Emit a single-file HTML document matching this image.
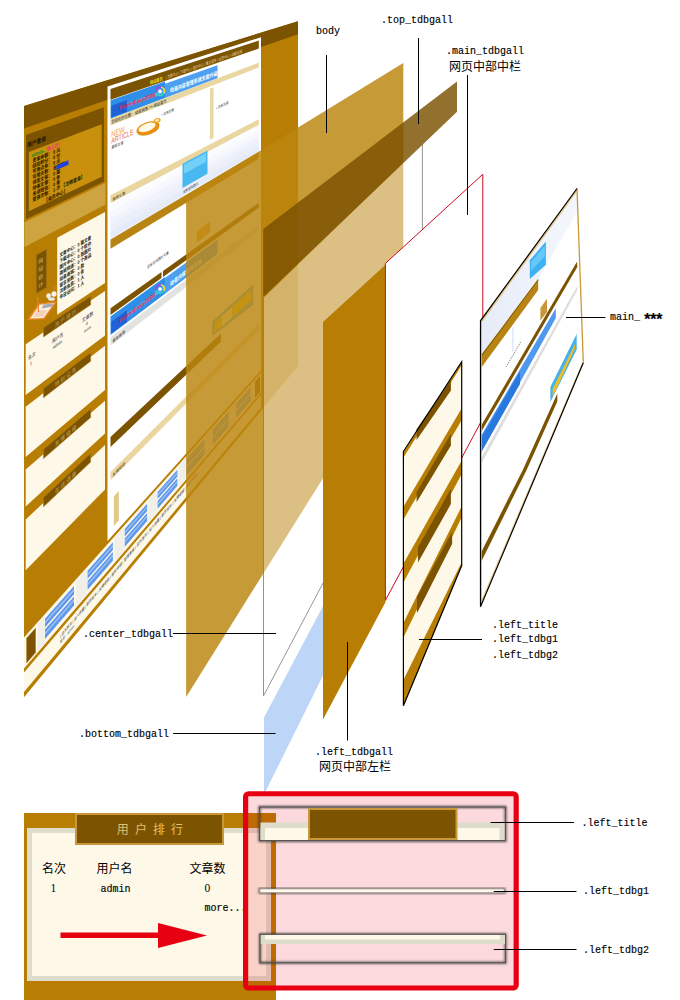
<!DOCTYPE html>
<html lang="zh-CN"><head><meta charset="utf-8"><title>CSS layers</title>
<style>
html,body{margin:0;padding:0;background:#fff;}
body{width:680px;height:1000px;overflow:hidden;position:relative;}
svg{position:absolute;left:0;top:0;display:block;}
.lb{font-family:"Liberation Mono","Noto Serif CJK SC",monospace;font-size:10px;fill:#000;stroke:#000;stroke-width:0.15px;}
.cj{font-family:"Liberation Serif","Noto Sans CJK SC",sans-serif;font-size:12px;fill:#000;}
</style></head><body>
<svg width="680" height="1000" viewBox="0 0 680 1000">
<g id="composite">
<polygon points="24.0,106.0 298.0,21.2 298.0,366.0 24.0,697.3" fill="#B87E03" />
<polygon points="24.0,106.0 298.0,21.2 298.0,34.3 24.0,128.5" fill="#7C5300" />
<polygon points="26.0,134.9 104.0,107.2 104.0,181.5 26.0,219.2" fill="#7C5300" />
<polygon points="28.9,152.0 101.7,124.2 101.7,176.8 28.9,211.3" fill="#C8900C" />
<polygon points="24.5,222.2 105.5,182.8 105.5,204.6 24.5,247.1" fill="#CDA440" />
<polygon points="57.2,237.8 105.0,212.1 105.0,283.1 57.2,314.7" fill="#FDF8E8" />
<polygon points="36.2,254.8 46.7,249.1 46.7,287.4 36.2,293.7" fill="#7C5300" stroke="#A87A1C" stroke-width="0.8" />
<polygon points="27.2,319.7 44.3,319.3 56.8,301.5 38.5,303.5" fill="#F08828" />
<polygon points="30.3,318.4 43.5,318.0 54.4,303.0 39.6,304.8" fill="#FBEFE0" />
<polygon points="41.5,308.5 51.8,306.8 54.0,303.3 43.8,304.6" fill="#A8A8B4" />
<polygon points="33.0,317.0 42.8,316.8 47.5,310.0 37.6,310.6" fill="#F6C8B0" fill-opacity="0.8" />
<ellipse cx="48.6" cy="295.8" rx="2.3" ry="2.6" fill="#F2EEEA"/><ellipse cx="54" cy="294" rx="2.6" ry="2.8" fill="#F6F0E8"/><ellipse cx="51.5" cy="299" rx="3.5" ry="1.8" fill="#ECE6E0"/>
<line x1="37.7" y1="297.5" x2="38.6" y2="312" stroke="#F08030" stroke-width="1.2"/>
<line x1="53" y1="291.5" x2="55.5" y2="286.5" stroke="#F08030" stroke-width="0.8"/>
<polygon points="25.7,344.3 105.0,290.9 105.0,335.5 25.7,395.1" fill="#FDF8E8" />
<polygon points="43.5,327.7 90.6,296.3 90.6,304.8 43.5,336.9" fill="#7C5300" stroke="#A87A1C" stroke-width="0.6" />
<polygon points="25.7,406.8 105.0,345.8 105.0,389.9 25.7,457.0" fill="#FDF8E8" />
<polygon points="43.5,388.6 90.6,352.7 90.6,361.2 43.5,397.7" fill="#7C5300" stroke="#A87A1C" stroke-width="0.6" />
<polygon points="25.7,469.4 105.0,400.8 105.0,433.5 25.7,506.5" fill="#FDF8E8" />
<polygon points="43.5,449.4 90.6,409.0 90.6,417.5 43.5,458.6" fill="#7C5300" stroke="#A87A1C" stroke-width="0.6" />
<polygon points="25.7,519.5 105.0,444.9 105.0,489.5 25.7,570.2" fill="#FDF8E8" />
<polygon points="43.5,497.6 90.6,453.6 90.6,462.1 43.5,506.8" fill="#7C5300" stroke="#A87A1C" stroke-width="0.6" />
<polygon points="107.5,86.4 261.0,37.2 261.0,370.3 107.5,541.1" fill="#fff" />
<polygon points="110.5,89.0 258.8,40.6 258.8,48.5 110.5,99.8" fill="#7C5300" />
<polygon points="110.6,100.2 165.0,81.4 165.0,98.1 110.6,118.7" fill="#2F8FE8" />
<polygon points="165.0,83.7 217.5,65.3 217.5,78.2 165.0,98.1" fill="#4F9FF0" />
<polygon points="110.5,118.8 258.8,62.6 258.8,67.5 110.5,125.4" fill="#EAD6A0" />
<polygon points="210.0,88.7 213.5,87.3 213.5,137.8 210.0,139.6" fill="#EAD6A0" />
<polygon points="110.5,195.3 258.8,119.2 258.8,124.9 110.5,203.0" fill="#EAD6A0" />
<polygon points="110.5,204.0 258.8,125.7 258.8,131.0 110.5,211.1" fill="#FBFCFE" />
<polygon points="110.5,210.9 258.8,130.8 258.8,136.1 110.5,218.0" fill="#F6F8FD" />
<polygon points="110.5,217.8 258.8,135.9 258.8,141.2 110.5,224.9" fill="#F0F3FB" />
<polygon points="110.5,224.6 258.8,141.0 258.8,146.2 110.5,231.8" fill="#EAEFF9" />
<polygon points="110.5,231.5 258.8,146.1 258.8,151.3 110.5,238.7" fill="#E5EBF8" />
<polygon points="110.5,239.4 258.8,151.9 258.8,158.8 110.5,248.7" fill="#B88414" />
<polygon points="110.5,308.2 161.5,272.0 161.5,278.1 110.5,314.9" fill="#7C5300" />
<polygon points="163.0,270.9 258.8,202.8 258.8,207.8 163.0,277.0" fill="#7C5300" />
<polygon points="110.5,316.5 165.0,276.9 165.0,293.7 110.5,334.9" fill="#2F8FE8" />
<polygon points="165.0,277.9 217.5,239.7 217.5,253.9 165.0,293.7" fill="#4F9FF0" />
<polygon points="110.5,337.5 258.8,224.5 258.8,230.6 110.5,345.7" fill="#E2E2E0" />
<polygon points="110.5,437.1 221.0,333.6 221.0,341.5 110.5,446.9" fill="#7C5300" />
<polygon points="110.5,472.0 258.8,324.1 258.8,330.2 110.5,480.3" fill="#EAD6A0" />
<polygon points="113.8,496.4 118.8,491.1 118.8,520.5 113.8,526.0" fill="#E4C888" />
<polygon points="24.0,637.6 261.0,372.6 261.0,392.4 24.0,668.6" fill="#FDF8E8" />
<polygon points="24.0,672.5 261.0,394.9 261.0,407.3 24.0,692.0" fill="#FDF8E8" />
<polygon points="111.2,105.7 127.0,100.1 127.0,111.5 111.2,117.5" fill="#1848D0" fill-opacity="0.65" />
<polygon points="127.0,103.0 165.0,89.3 165.0,93.0 127.0,107.0" fill="#7FD0FF" fill-opacity="0.45" />
<g transform="translate(160.0,91.3) rotate(-18)" fill="none" stroke-width="1.6"><path d="M-4.6,0 A4.6,4.2 0 0 1 2.3,-3.6" stroke="#B040E0"/><path d="M2.3,-3.6 A4.6,4.2 0 0 1 3.2,3" stroke="#F0E030"/><path d="M3.2,3 A4.6,4.2 0 0 1 -4.6,0" stroke="#30D0C0"/><circle r="1.8" fill="#fff" stroke="none"/></g>
<polygon points="111.2,321.8 127.0,310.2 127.0,321.7 111.2,333.6" fill="#1848D0" fill-opacity="0.65" />
<polygon points="127.0,313.2 165.0,285.1 165.0,288.8 127.0,317.2" fill="#7FD0FF" fill-opacity="0.45" />
<g transform="translate(160.0,289.0) rotate(-18)" fill="none" stroke-width="1.6"><path d="M-4.6,0 A4.6,4.2 0 0 1 2.3,-3.6" stroke="#B040E0"/><path d="M2.3,-3.6 A4.6,4.2 0 0 1 3.2,3" stroke="#F0E030"/><path d="M3.2,3 A4.6,4.2 0 0 1 -4.6,0" stroke="#30D0C0"/><circle r="1.8" fill="#fff" stroke="none"/></g>
<text transform="matrix(0.800,-0.2994,0,1.000,27.0,147.5)" font-size="6" font-weight="bold" fill="#1a1000" style="font-family:'Liberation Sans','Noto Sans CJK SC',sans-serif">用户登录</text>
<text transform="matrix(0.78,-0.3056,0,1,31.5,157.2)" font-size="5" style="font-family:'Liberation Sans','Noto Sans CJK SC',sans-serif"><tspan fill="#0A8A1A" font-weight="bold">admin，</tspan><tspan fill="#F0308A" font-weight="bold">晚上好！</tspan></text>
<text transform="matrix(0.780,-0.3123,0,1.000,32.5,162.4)" font-size="5" font-weight="bold" fill="#1a1000" style="font-family:'Liberation Sans','Noto Sans CJK SC',sans-serif">资金余额： 0 元</text>
<text transform="matrix(0.780,-0.3191,0,1.000,32.5,168.0)" font-size="5" font-weight="bold" fill="#1a1000" style="font-family:'Liberation Sans','Noto Sans CJK SC',sans-serif">经验积分： 0 分</text>
<text transform="matrix(0.780,-0.3258,0,1.000,32.5,173.6)" font-size="5" font-weight="bold" fill="#1a1000" style="font-family:'Liberation Sans','Noto Sans CJK SC',sans-serif">可用点券： 0 点</text>
<text transform="matrix(0.780,-0.3326,0,1.000,32.5,179.2)" font-size="5" font-weight="bold" fill="#1a1000" style="font-family:'Liberation Sans','Noto Sans CJK SC',sans-serif">可用天数： 无限期</text>
<text transform="matrix(0.780,-0.3393,0,1.000,32.5,184.8)" font-size="5" font-weight="bold" fill="#1a1000" style="font-family:'Liberation Sans','Noto Sans CJK SC',sans-serif">待签文章： 0 篇</text>
<text transform="matrix(0.780,-0.3460,0,1.000,32.5,190.4)" font-size="5" font-weight="bold" fill="#1a1000" style="font-family:'Liberation Sans','Noto Sans CJK SC',sans-serif">待审文章： 0 条</text>
<text transform="matrix(0.780,-0.3528,0,1.000,32.5,196.0)" font-size="5" font-weight="bold" fill="#1a1000" style="font-family:'Liberation Sans','Noto Sans CJK SC',sans-serif">未读短信： 0 条</text>
<text transform="matrix(0.780,-0.3595,0,1.000,32.5,201.6)" font-size="5" font-weight="bold" fill="#1a1000" style="font-family:'Liberation Sans','Noto Sans CJK SC',sans-serif">登录次数： 1 次  【注销登录】</text>
<text transform="matrix(0.780,-0.3676,0,1.000,44.0,202.9)" font-size="5" font-weight="bold" fill="#1a1000" style="font-family:'Liberation Sans','Noto Sans CJK SC',sans-serif">【会员中心】</text>
<polygon points="56.4,165.4 68.5,160.3 68.5,164.7 56.4,169.9" fill="#2040E0" />
<text transform="matrix(0.900,-0.5061,0,1.000,38.2,264.2)" font-size="5.5" font-weight="normal" fill="#D8B868" style="font-family:'Liberation Sans','Noto Sans CJK SC',sans-serif">网</text>
<text transform="matrix(0.900,-0.5174,0,1.000,38.2,272.3)" font-size="5.5" font-weight="normal" fill="#D8B868" style="font-family:'Liberation Sans','Noto Sans CJK SC',sans-serif">站</text>
<text transform="matrix(0.900,-0.5287,0,1.000,38.2,280.4)" font-size="5.5" font-weight="normal" fill="#D8B868" style="font-family:'Liberation Sans','Noto Sans CJK SC',sans-serif">统</text>
<text transform="matrix(0.900,-0.5401,0,1.000,38.2,288.5)" font-size="5.5" font-weight="normal" fill="#D8B868" style="font-family:'Liberation Sans','Noto Sans CJK SC',sans-serif">计</text>
<text transform="matrix(0.720,-0.4107,0,1.000,59.5,257.2)" font-size="5" font-weight="bold" fill="#111" style="font-family:'Liberation Sans','Noto Sans CJK SC',sans-serif">文章中心：0 篇文章</text>
<text transform="matrix(0.720,-0.4177,0,1.000,59.5,263.3)" font-size="5" font-weight="bold" fill="#111" style="font-family:'Liberation Sans','Noto Sans CJK SC',sans-serif">下载中心：0 个软件</text>
<text transform="matrix(0.720,-0.4247,0,1.000,59.5,269.3)" font-size="5" font-weight="bold" fill="#111" style="font-family:'Liberation Sans','Noto Sans CJK SC',sans-serif">图片中心：0 张图片</text>
<text transform="matrix(0.720,-0.4317,0,1.000,59.5,275.4)" font-size="5" font-weight="bold" fill="#111" style="font-family:'Liberation Sans','Noto Sans CJK SC',sans-serif">商城频道：0 个商品</text>
<text transform="matrix(0.720,-0.4387,0,1.000,59.5,281.4)" font-size="5" font-weight="bold" fill="#111" style="font-family:'Liberation Sans','Noto Sans CJK SC',sans-serif">动易商城：0 款</text>
<text transform="matrix(0.720,-0.4457,0,1.000,59.5,287.4)" font-size="5" font-weight="bold" fill="#111" style="font-family:'Liberation Sans','Noto Sans CJK SC',sans-serif">留言总数：0 条</text>
<text transform="matrix(0.720,-0.4526,0,1.000,59.5,293.5)" font-size="5" font-weight="bold" fill="#111" style="font-family:'Liberation Sans','Noto Sans CJK SC',sans-serif">注册会员：1 人</text>
<text transform="matrix(0.720,-0.4596,0,1.000,59.5,299.5)" font-size="5" font-weight="bold" fill="#111" style="font-family:'Liberation Sans','Noto Sans CJK SC',sans-serif">今日访问：1 人</text>
<text transform="matrix(0.800,-0.5427,0,1.000,55.0,327.4)" font-size="5.5" font-weight="normal" fill="#C8A860" style="font-family:'Liberation Sans','Noto Sans CJK SC',sans-serif">用 户 排 行</text>
<text transform="matrix(0.800,-0.6190,0,1.000,55.0,387.1)" font-size="5.5" font-weight="normal" fill="#C8A860" style="font-family:'Liberation Sans','Noto Sans CJK SC',sans-serif">特 别 公 告</text>
<text transform="matrix(0.800,-0.6952,0,1.000,55.0,446.8)" font-size="5.5" font-weight="normal" fill="#C8A860" style="font-family:'Liberation Sans','Noto Sans CJK SC',sans-serif">友 情 链 接</text>
<text transform="matrix(0.800,-0.7557,0,1.000,55.0,494.2)" font-size="5.5" font-weight="normal" fill="#C8A860" style="font-family:'Liberation Sans','Noto Sans CJK SC',sans-serif">在 线 调 查</text>
<text transform="matrix(0.750,-0.5256,0,1.000,28.0,360.4)" font-size="5" font-weight="normal" fill="#222" style="font-family:'Liberation Sans','Noto Sans CJK SC',sans-serif">名次</text>
<text transform="matrix(0.750,-0.5256,0,1.000,52.0,343.6)" font-size="5" font-weight="normal" fill="#222" style="font-family:'Liberation Sans','Noto Sans CJK SC',sans-serif">用户名</text>
<text transform="matrix(0.750,-0.5256,0,1.000,82.0,322.6)" font-size="5" font-weight="normal" fill="#222" style="font-family:'Liberation Sans','Noto Sans CJK SC',sans-serif">文章数</text>
<text transform="matrix(0.750,-0.5330,0,1.000,30.0,365.5)" font-size="4.5" font-weight="normal" fill="#222" style="font-family:'Liberation Sans','Noto Sans CJK SC',sans-serif">1</text>
<text transform="matrix(0.750,-0.5330,0,1.000,53.0,349.1)" font-size="4.5" font-weight="normal" fill="#222" style="font-family:'Liberation Sans','Noto Sans CJK SC',sans-serif">admin</text>
<text transform="matrix(0.750,-0.5330,0,1.000,86.0,325.7)" font-size="4.5" font-weight="normal" fill="#222" style="font-family:'Liberation Sans','Noto Sans CJK SC',sans-serif">0</text>
<text transform="matrix(0.750,-0.5405,0,1.000,84.0,333.0)" font-size="4" font-weight="normal" fill="#222" style="font-family:'Liberation Sans','Noto Sans CJK SC',sans-serif">more...</text>
<text transform="matrix(0.700,-0.2396,0,1.000,150.0,84.4)" font-size="4.5" font-weight="bold" fill="#F0E020" style="font-family:'Liberation Sans','Noto Sans CJK SC',sans-serif">网站首页</text>
<text transform="matrix(0.620,-0.2122,0,1.000,166.0,79.0)" font-size="4.3" font-weight="normal" fill="#E8D8A8" style="font-family:'Liberation Sans','Noto Sans CJK SC',sans-serif">| 文章中心 | 下载中心 | 图片中心 | 雁过留声 | 会员中心 | 动易商城</text>
<text transform="matrix(0.800,-0.2951,0,1.000,119.0,110.0)" font-size="6" font-weight="bold" fill="#E8203A" style="font-family:'Liberation Sans',sans-serif">PowerEasy2006</text>
<text transform="matrix(0.720,-0.2675,0,1.000,170.0,92.6)" font-size="5.5" font-weight="bold" fill="#fff" style="font-family:'Liberation Sans','Noto Sans CJK SC',sans-serif">动易内容管理系统全面升级</text>
<text transform="matrix(0.720,-0.2795,0,1.000,111.5,123.8)" font-size="4.5" font-weight="normal" fill="#222" style="font-family:'Liberation Sans','Noto Sans CJK SC',sans-serif">您现在的位置： 动易网络 &gt;&gt; 网站首页</text>
<text transform="matrix(0.720,-0.2964,0,1.000,111.3,137.2)" font-size="8" font-weight="normal" fill="#F0A030" style="font-family:'Liberation Sans',sans-serif">NEW</text>
<text transform="matrix(0.660,-0.2794,0,1.000,111.3,143.8)" font-size="8" font-weight="normal" fill="#E86A30" style="font-family:'Liberation Sans',sans-serif">ARTICLE</text>
<text transform="matrix(0.750,-0.3246,0,1.000,111.5,149.1)" font-size="4" font-weight="normal" fill="#333" style="font-family:'Liberation Sans','Noto Sans CJK SC',sans-serif">最新文章</text>
<g transform="translate(148,128.4) rotate(-20)"><ellipse cx="0" cy="2.2" rx="11" ry="4" fill="#DDE6F0"/><ellipse cx="0" cy="0" rx="12" ry="6.3" fill="#E8900C"/><ellipse cx="-0.5" cy="-1.3" rx="9" ry="3.9" fill="#FFF8E6"/><ellipse cx="11.3" cy="-4.3" rx="3.6" ry="2.3" fill="#F0A828"/><ellipse cx="11.3" cy="-4.6" rx="2" ry="1.1" fill="#FFF3D0"/></g>
<text transform="matrix(0.750,-0.3080,0,1.000,161.5,116.1)" font-size="3.6" font-weight="normal" fill="#333" style="font-family:'Liberation Sans','Noto Sans CJK SC',sans-serif">▪ 没有文章</text>
<text transform="matrix(0.750,-0.3333,0,1.000,216.0,109.4)" font-size="3.6" font-weight="normal" fill="#333" style="font-family:'Liberation Sans','Noto Sans CJK SC',sans-serif">▪ 没有文章</text>
<text transform="matrix(0.750,-0.3937,0,1.000,112.5,201.2)" font-size="4.2" font-weight="normal" fill="#4a3a10" style="font-family:'Liberation Sans','Noto Sans CJK SC',sans-serif">推荐文章</text>
<text transform="matrix(0.750,-0.5806,0,1.000,112.5,342.9)" font-size="4.2" font-weight="normal" fill="#333" style="font-family:'Liberation Sans','Noto Sans CJK SC',sans-serif">最新推荐</text>
<text transform="matrix(0.750,-0.7577,0,1.000,112.5,477.2)" font-size="4.2" font-weight="normal" fill="#4a3a10" style="font-family:'Liberation Sans','Noto Sans CJK SC',sans-serif">友情链接</text>
<polygon points="182.5,163.7 207.5,150.6 207.5,173.7 182.5,188.0" fill="#48B8F0" />
<polygon points="184.0,164.7 206.0,153.1 206.0,161.7 184.0,173.7" fill="#8FE0FF" fill-opacity="0.6" />
<text transform="matrix(0.720,-0.4204,0,1.000,183.0,193.5)" font-size="3.6" font-weight="normal" fill="#333" style="font-family:'Liberation Sans','Noto Sans CJK SC',sans-serif">没有任何图片</text>
<text transform="matrix(0.720,-0.4936,0,1.000,147.0,268.8)" font-size="3.8" font-weight="normal" fill="#333" style="font-family:'Liberation Sans','Noto Sans CJK SC',sans-serif">没有任何图片文章</text>
<text transform="matrix(0.800,-0.5988,0,1.000,119.0,323.4)" font-size="6" font-weight="bold" fill="#E8203A" style="font-family:'Liberation Sans',sans-serif">PowerEasy2006</text>
<text transform="matrix(0.720,-0.5402,0,1.000,170.0,286.2)" font-size="5.5" font-weight="bold" fill="#fff" style="font-family:'Liberation Sans','Noto Sans CJK SC',sans-serif">动易内容管理系统</text>
<polygon points="26.6,638.2 35.5,628.2 35.5,652.6 26.6,662.9" fill="#7C5300" stroke="#A87A1C" stroke-width="0.6" />
<polygon points="37.5,624.2 44.5,616.4 44.5,643.3 37.5,651.4" fill="#F1EFEA" />
<polygon points="45.0,618.7 74.0,586.0 74.0,594.2 45.0,627.2" fill="#5F98EA" />
<polygon points="45.0,629.5 74.0,596.4 74.0,605.4 45.0,639.0" fill="#5F98EA" />
<polygon points="45.0,621.5 74.0,588.7 74.0,590.9 45.0,623.8" fill="#A8CCF8" fill-opacity="0.8" />
<polygon points="45.0,632.4 74.0,599.1 74.0,601.3 45.0,634.7" fill="#A8CCF8" fill-opacity="0.8" />
<polygon points="75.8,581.3 87.1,568.7 87.1,593.8 75.8,606.9" fill="#F1EFEA" />
<polygon points="87.6,570.8 112.9,542.3 112.9,549.9 87.6,578.8" fill="#5F98EA" />
<polygon points="87.6,580.9 112.9,552.0 112.9,560.4 87.6,589.7" fill="#5F98EA" />
<polygon points="87.6,573.5 112.9,544.8 112.9,546.9 87.6,575.6" fill="#A8CCF8" fill-opacity="0.8" />
<polygon points="87.6,583.6 112.9,554.5 112.9,556.6 87.6,585.7" fill="#A8CCF8" fill-opacity="0.8" />
<polygon points="114.5,537.9 124.3,527.0 124.3,550.5 114.5,561.9" fill="#F1EFEA" />
<polygon points="124.8,528.9 147.1,503.8 147.1,511.0 124.8,536.4" fill="#5F98EA" />
<polygon points="124.8,538.4 147.1,512.9 147.1,520.9 124.8,546.7" fill="#5F98EA" />
<polygon points="124.8,531.4 147.1,506.2 147.1,508.1 124.8,533.4" fill="#A8CCF8" fill-opacity="0.8" />
<polygon points="124.8,540.9 147.1,515.3 147.1,517.3 124.8,542.9" fill="#A8CCF8" fill-opacity="0.8" />
<polygon points="148.5,499.8 157.1,490.2 157.1,512.4 148.5,522.4" fill="#F1EFEA" />
<polygon points="157.6,492.0 177.4,469.7 177.4,476.5 157.6,499.0" fill="#5F98EA" />
<polygon points="157.6,500.9 177.4,478.3 177.4,485.8 157.6,508.7" fill="#5F98EA" />
<polygon points="157.6,494.3 177.4,472.0 177.4,473.8 157.6,496.2" fill="#A8CCF8" fill-opacity="0.8" />
<polygon points="157.6,503.3 177.4,480.6 177.4,482.4 157.6,505.2" fill="#A8CCF8" fill-opacity="0.8" />
<polygon points="178.6,466.0 186.2,457.5 186.2,478.4 178.6,487.3" fill="#F1EFEA" />
<polygon points="186.7,459.2 204.4,439.2 204.4,445.7 186.7,465.8" fill="#5F98EA" />
<polygon points="186.7,467.6 204.4,447.4 204.4,454.5 186.7,475.0" fill="#5F98EA" />
<polygon points="186.7,461.4 204.4,441.4 204.4,443.1 186.7,463.2" fill="#A8CCF8" fill-opacity="0.8" />
<polygon points="186.7,469.8 204.4,449.5 204.4,451.3 186.7,471.6" fill="#A8CCF8" fill-opacity="0.8" />
<polygon points="205.5,435.9 212.3,428.3 212.3,448.1 205.5,456.0" fill="#F1EFEA" />
<polygon points="212.8,429.8 228.7,411.9 228.7,418.0 212.8,436.1" fill="#5F98EA" />
<polygon points="212.8,437.8 228.7,419.6 228.7,426.4 212.8,444.8" fill="#5F98EA" />
<polygon points="212.8,431.9 228.7,413.9 228.7,415.6 212.8,433.6" fill="#A8CCF8" fill-opacity="0.8" />
<polygon points="212.8,439.9 228.7,421.7 228.7,423.3 212.8,441.6" fill="#A8CCF8" fill-opacity="0.8" />
<polygon points="229.7,408.8 235.8,402.0 235.8,420.8 229.7,427.8" fill="#F1EFEA" />
<polygon points="236.3,403.4 250.7,387.2 250.7,393.0 236.3,409.4" fill="#5F98EA" />
<polygon points="236.3,411.0 250.7,394.6 250.7,401.0 236.3,417.6" fill="#5F98EA" />
<polygon points="236.3,405.4 250.7,389.2 250.7,390.7 236.3,407.0" fill="#A8CCF8" fill-opacity="0.8" />
<polygon points="236.3,413.0 250.7,396.5 250.7,398.1 236.3,414.6" fill="#A8CCF8" fill-opacity="0.8" />
<polygon points="255.0,381.6 260.0,375.9 260.0,391.9 255.0,397.7" fill="#7C5300" />
<text transform="matrix(0.620,-0.7340,0,1.000,60.0,638.1)" font-size="4.2" font-weight="normal" fill="#222" style="font-family:'Liberation Sans','Noto Sans CJK SC',sans-serif">| 设为首页 | 加入收藏 | 联系站长 | 友情链接 | 版权申明 | 管理登录 | 设为首页 | 加入收藏 | 联系站长 | 友情链接 | 版权申明 |</text>
<text transform="matrix(0.620,-0.7396,0,1.000,60.0,643.7)" font-size="4" font-weight="normal" fill="#222" style="font-family:'Liberation Sans','Noto Sans CJK SC',sans-serif">站长：admin</text>
<polygon points="212.4,321.6 253.2,284.4 253.2,304.8 212.4,336.0" fill="#40B0F0" />
<polygon points="214.5,322.5 251.5,289.0 251.5,301.0 214.5,333.0" fill="#E8D020" />
<polygon points="222.0,316.0 232.0,307.0 232.0,317.5 222.0,326.5" fill="#FFFFFF" fill-opacity="0.8" />
<polygon points="196.8,232.0 210.0,220.8 210.0,232.0 196.8,243.0" fill="#D8A838" />
</g>
<polygon points="186.1,196.0 403.3,63.0 403.3,350.0 186.1,697.0" fill="#BC8610" fill-opacity="0.83" />
<polygon points="263.5,298.0 422.4,144.0 422.4,395.0 263.5,695.8" fill="#fff" fill-opacity="0.38" />
<polyline points="422.4,144.0 422.4,395.0 263.5,695.8 263.5,298.0" fill="none" stroke="#777" stroke-width="0.8"/>
<polygon points="264.0,717.5 323.0,606.0 323.0,675.5 264.0,794.6" fill="#BDD5F7" />
<polygon points="263.3,229.0 457.0,81.5 457.0,111.7 263.3,297.0" fill="#7A5000" fill-opacity="0.82" />
<polygon points="323.0,322.0 385.3,265.0 385.3,602.5 323.0,719.5" fill="#B87E03" />
<polygon points="385.4,263.4 482.8,174.3 482.8,418.5 385.4,600.4" fill="#fff" stroke="#CC0A1E" stroke-width="1" />
<g id="leftpanel">
<polygon points="403.4,451.5 461.7,361.7 461.7,565.6 403.4,705.8" fill="#FDF8E8" />
<polygon points="403.4,452.5 461.6,361.7 461.6,365.5 403.4,457.5" fill="#B87E03" />
<polygon points="403.4,506.8 461.6,408.6 461.6,420.3 403.4,519.4" fill="#B87E03" />
<polygon points="403.4,563.7 461.6,460.8 461.6,474.3 403.4,582.4" fill="#B87E03" />
<polygon points="403.4,623.0 461.6,506.6 461.6,517.6 403.4,637.4" fill="#B87E03" />
<polygon points="403.4,680.0 461.6,562.6 461.6,566.5 403.4,706.2" fill="#B87E03" />
<polygon points="416.6,429.3 450.9,379.7 450.9,390.5 416.6,440.0" fill="#7C5300" />
<polygon points="416.6,492.3 450.9,433.8 450.9,445.5 416.6,502.3" fill="#7C5300" />
<polygon points="418.0,547.3 450.9,488.8 450.9,504.0 418.0,562.6" fill="#7C5300" />
<polygon points="417.0,596.7 452.1,531.9 452.1,544.0 417.0,613.2" fill="#7C5300" />
<polygon points="403.4,451.5 461.7,361.7 461.7,565.6 403.4,705.8" fill="none" stroke="#000" stroke-width="1.2" />
</g>
<g id="mainpanel">
<polygon points="480.6,319.8 576.7,188.8 583.4,364.0 480.6,606.6" fill="#fff" />
<defs><linearGradient id="lb" x1="0" y1="0" x2="1" y2="0.2"><stop offset="0" stop-color="#E3E9F8"/><stop offset="1" stop-color="#F4F7FD"/></linearGradient></defs>
<polygon points="480.4,320.8 577.0,188.5 577.8,211.0 538.2,279.0 480.4,356.0" fill="url(#lb)" />
<polygon points="480.4,320.8 577.0,188.5 577.1,191.5 480.4,324.5" fill="#E4C888" />
<polygon points="480.5,356.0 538.2,279.0 538.2,290.0 480.5,368.7" fill="#B88414" />
<polygon points="480.5,356.0 538.2,279.0 538.2,280.6 480.5,358.0" fill="#8A6208" />
<polygon points="529.8,260.3 545.9,241.6 545.9,264.7 529.8,279.0" fill="#3FB0F0" />
<polygon points="531.0,262.0 544.8,246.0 544.8,256.0 531.0,271.0" fill="#7FD8FF" fill-opacity="0.6" />
<polygon points="480.5,426.8 577.1,261.4 577.3,267.0 480.5,433.0" fill="#7C5300" />
<polygon points="480.5,436.7 555.8,308.3 555.8,318.0 480.5,454.0" fill="#4F98F0" />
<polygon points="480.5,439.0 520.0,371.6 520.0,384.0 480.5,453.0" fill="#2878E0" />
<polygon points="480.5,459.0 577.3,286.0 577.4,290.0 480.5,465.0" fill="#DDDDDB" />
<polygon points="540.4,308.0 547.0,298.8 547.0,312.0 540.4,320.8" fill="#C89838" />
<polygon points="550.4,387.0 576.7,334.0 576.7,349.4 550.4,402.0" fill="#40B0F0" />
<polygon points="552.6,389.0 575.0,344.0 575.0,348.5 552.6,397.0" fill="#F0C020" />
<polygon points="480.6,553.6 522.8,470.0 557.3,393.4 557.3,401.6 526.6,470.0 480.6,563.0" fill="#7C5300" />
<polygon points="481.0,601.0 582.3,362.3 583.3,362.8 481.0,605.0" fill="#E4C888" />
<line x1="506" y1="367" x2="520.7" y2="342" stroke="#888" stroke-width="0.9" stroke-dasharray="1.5,0.8"/>
<line x1="512.9" y1="351.6" x2="512.9" y2="327.4" stroke="#B8D0F0" stroke-width="0.7"/>
<polyline points="577.0,188.5 583.3,362.8" fill="none" stroke="#C8983A" stroke-width="1.3"/>
<polyline points="481.5,322.0 481.5,603.0" fill="none" stroke="#E4C888" stroke-width="0.8"/>
<polyline points="577.0,188.5 480.5,320.8 480.5,606.7 583.3,362.8" fill="none" stroke="#000" stroke-width="1.2" stroke-linejoin="miter"/>
</g>
<line x1="326.5" y1="55" x2="326.5" y2="133" stroke="#000" stroke-width="1"/>
<text x="316" y="34" class="lb" >body</text>
<line x1="418.5" y1="38" x2="418.5" y2="124" stroke="#000" stroke-width="1"/>
<text x="381" y="23" class="lb" >.top_tdbgall</text>
<line x1="467.5" y1="75" x2="467.5" y2="215" stroke="#000" stroke-width="1"/>
<text x="446" y="54" class="lb" >.main_tdbgall</text>
<text x="449" y="71" class="cj" >网页中部中栏</text>
<line x1="566" y1="317.5" x2="605.5" y2="317.5" stroke="#000" stroke-width="1"/>
<text x="610" y="320" class="lb" >main_ <tspan x="642.5 648.5 654.5" dy="4.5" font-size="16" font-weight="bold">***</tspan></text>
<line x1="173" y1="633.5" x2="276" y2="633.5" stroke="#000" stroke-width="1"/>
<text x="83" y="637" class="lb" >.center_tdbgall</text>
<line x1="173" y1="733.5" x2="275.5" y2="733.5" stroke="#000" stroke-width="1"/>
<text x="79" y="737" class="lb" >.bottom_tdbgall</text>
<line x1="347.5" y1="642" x2="347.5" y2="740.5" stroke="#000" stroke-width="1"/>
<text x="315" y="755" class="lb" >.left_tdbgall</text>
<text x="319" y="771" class="cj" >网页中部左栏</text>
<line x1="419" y1="639.5" x2="482" y2="639.5" stroke="#000" stroke-width="1"/>
<text x="492" y="628" class="lb" >.left_title</text>
<text x="492" y="642" class="lb" >.left_tdbg1</text>
<text x="492" y="658" class="lb" >.left_tdbg2</text>
<rect x="24" y="813" width="252" height="187" fill="#B87E03"/>
<rect x="27" y="828" width="244" height="153" fill="#DEDDCB"/>
<rect x="32" y="833" width="234" height="143" fill="#FDF8E8"/>
<rect x="76" y="814" width="147" height="30" fill="#7C5300" stroke="#C8983A" stroke-width="2"/>
<text x="150" y="833.5" class="cj" text-anchor="middle" style="fill:#E0C070;font-family:'Noto Sans CJK SC',sans-serif;font-size:12px;word-spacing:3.4px">用 户 排 行</text>
<text x="42" y="873" class="cj" >名次</text>
<text x="96.5" y="873" class="cj" >用户名</text>
<text x="189.5" y="873" class="cj" >文章数</text>
<text x="50.5" y="892" class="lb" style="font-family:'Liberation Serif',serif;font-size:11.5px;stroke:none">1</text>
<text x="100.5" y="892" class="lb" >admin</text>
<text x="204.5" y="892" class="lb" style="font-family:'Liberation Serif',serif;font-size:11.5px;stroke:none">0</text>
<text x="204.5" y="911" class="lb" >more...</text>
<rect x="60.5" y="932.5" width="99" height="5.5" fill="#E60012"/>
<polygon points="158,923 207,935.5 158,948" fill="#E60012"/>
<rect x="245.6" y="793.75" width="270.6" height="194.25" rx="3" fill="#E60012" fill-opacity="0.15" stroke="#E60012" stroke-width="5.2"/>
<defs><filter id="sh" x="-5%" y="-30%" width="110%" height="160%"><feGaussianBlur stdDeviation="1.1"/></filter></defs>
<rect x="259.5" y="807" width="246" height="34" fill="none" stroke="#333" stroke-width="2.2" filter="url(#sh)" opacity="0.8"/>
<rect x="260.5" y="822.5" width="244" height="17.5" fill="#DEDDCB"/>
<rect x="265" y="828" width="234.5" height="12" fill="#FDF8E8"/>
<rect x="259.5" y="807" width="246" height="33.5" fill="none" stroke="#555" stroke-width="1"/>
<rect x="309" y="809" width="147.5" height="30" fill="#7C5300" stroke="#C8983A" stroke-width="2"/>
<rect x="259.5" y="888.5" width="245" height="4.5" fill="none" stroke="#333" stroke-width="2" filter="url(#sh)" opacity="0.7"/>
<rect x="260" y="889" width="244" height="3.5" fill="#FDF8E8" stroke="#999" stroke-width="0.6"/>
<rect x="260" y="934.25" width="245.5" height="28.5" fill="none" stroke="#333" stroke-width="2.2" filter="url(#sh)" opacity="0.8"/>
<rect x="260.5" y="935" width="244.5" height="9" fill="#DEDDCB"/>
<rect x="265" y="935" width="235" height="4.5" fill="#FDF8E8"/>
<rect x="260" y="934.25" width="245.5" height="28.5" fill="none" stroke="#555" stroke-width="1"/>
<line x1="490.5" y1="822.5" x2="574" y2="822.5" stroke="#000" stroke-width="1"/>
<line x1="493.75" y1="891.5" x2="576.5" y2="891.5" stroke="#000" stroke-width="1"/>
<line x1="493.75" y1="949.5" x2="576.5" y2="949.5" stroke="#000" stroke-width="1"/>
<text x="581.5" y="826" class="lb" >.left_title</text>
<text x="583" y="893.5" class="lb" >.left_tdbg1</text>
<text x="583" y="953" class="lb" >.left_tdbg2</text>
</svg></body></html>
